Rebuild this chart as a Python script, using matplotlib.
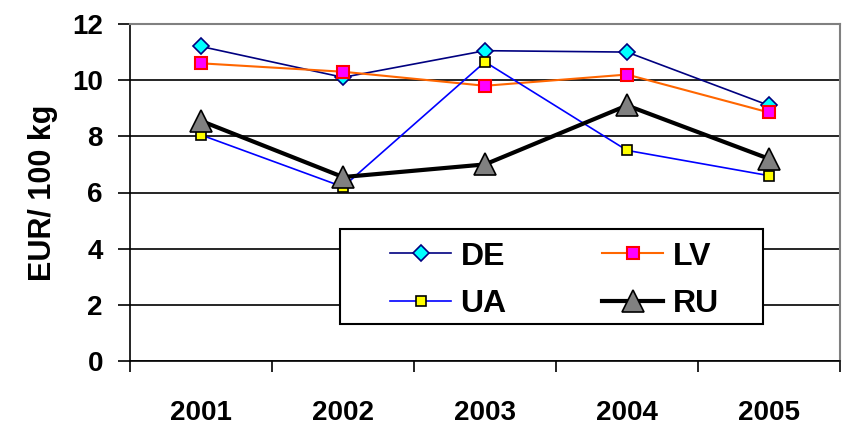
import matplotlib.pyplot as plt
from matplotlib.patches import Rectangle
import numpy as np

# Data
years = ['2001', '2002', '2003', '2004', '2005']
de = [11.2, 10.1, 11.05, 11.0, 9.1]
lv = [10.6, 10.3, 9.8, 10.2, 8.85]
ua = [8.05, 6.2, 10.65, 7.5, 6.6]
ru = [8.55, 6.55, 7.0, 9.1, 7.2]

plt.rcParams['font.family'] = ['Liberation Sans', 'DejaVu Sans']
plt.rcParams['font.weight'] = 'bold'

fig = plt.figure(figsize=(8.42, 4.25), dpi=100)
ax = fig.add_axes([130 / 842, 64 / 425, 710 / 842, 337 / 425])

x = np.arange(len(years))

l_de, = ax.plot(x, de, color='#000080', lw=1.2, marker='D', ms=8,
                mfc='#00FFFF', mec='#000080', mew=1.2, label='DE', zorder=5)
l_lv, = ax.plot(x, lv, color='#FF6600', lw=1.5, marker='s', ms=8,
                mfc='#FF00FF', mec='#FF0000', mew=1.5, label='LV', zorder=5)
l_ua, = ax.plot(x, ua, color='#0000FF', lw=1.2, marker='s', ms=7.5,
                mfc='#FFFF00', mec='#000000', mew=1.2, label='UA', zorder=5)
l_ru, = ax.plot(x, ru, color='#000000', lw=3, marker='^', ms=16,
                mfc='#808080', mec='#000000', mew=1.2, label='RU', zorder=6)

# Axes limits and ticks
ax.set_xlim(-0.5, len(years) - 0.5)
ax.set_ylim(0, 12)
ax.set_yticks(np.arange(0, 13, 2))
ax.set_xticks(x)
ax.set_xticklabels(years, fontsize=20, fontweight='bold')
ax.set_xticks(np.arange(-0.5, len(years), 1), minor=True)
ax.tick_params(axis='x', which='major', length=0, pad=28)
ax.tick_params(axis='x', which='minor', length=8, width=1.2, direction='out')
ax.tick_params(axis='y', length=8.5, width=1.2, pad=11, labelsize=20)
for lab in ax.get_yticklabels():
    lab.set_fontweight('bold')

ax.set_ylabel('EUR/ 100 kg', fontsize=22, fontweight='bold', labelpad=10)

# Grid and frame
ax.yaxis.grid(True, color='black', lw=1.2)
ax.set_axisbelow(True)
for side in ['top', 'right']:
    ax.spines[side].set_color('#808080')
    ax.spines[side].set_linewidth(1.5)
for side in ['left', 'bottom']:
    ax.spines[side].set_color('black')
    ax.spines[side].set_linewidth(1.2)

# Legend box (rows: DE LV / UA RU)
ax.add_patch(Rectangle((0.296, 0.11), 0.596, 0.282, transform=ax.transAxes,
                       facecolor='white', edgecolor='black', lw=1.5, zorder=7))
leg = ax.legend([l_de, l_ua, l_lv, l_ru], ['DE', 'UA', 'LV', 'RU'],
                loc='center', bbox_to_anchor=(0.598, 0.239), ncol=2,
                frameon=False, handlelength=1.9,
                handletextpad=0.3, columnspacing=3.0, labelspacing=0.55,
                prop={'weight': 'bold', 'size': 23})
leg.set_zorder(8)

fig.savefig('out.png', dpi=100)
